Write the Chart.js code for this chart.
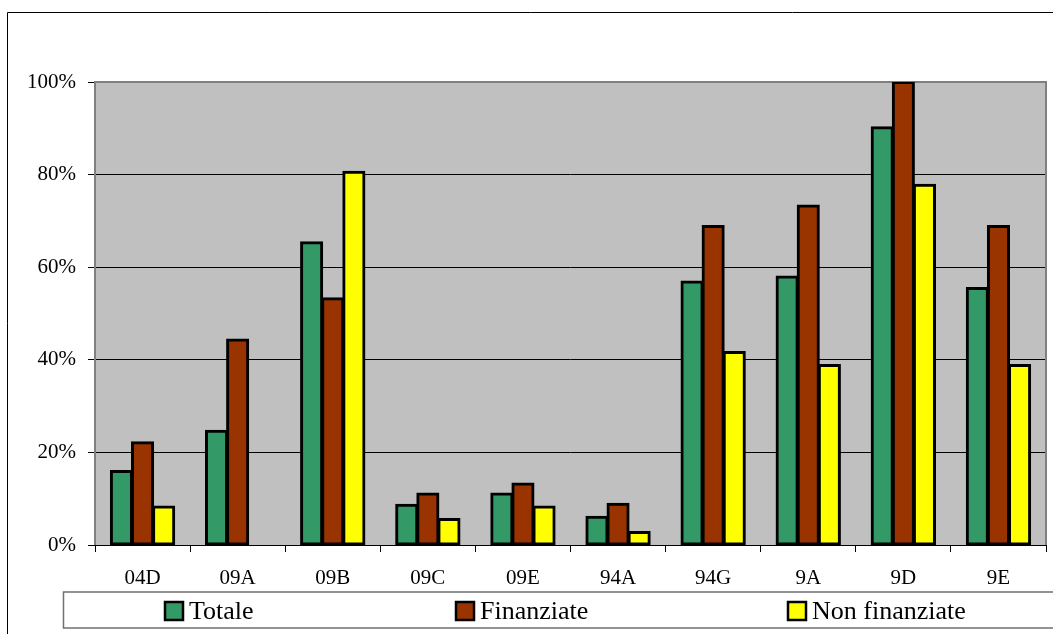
<!DOCTYPE html>
<html lang="it">
<head>
  <meta charset="UTF-8" />
  <title>Totale / Finanziate / Non finanziate</title>
  <script src="https://cdn.jsdelivr.net/npm/chart.js"></script>
  <style>
    * {
      margin: 0;
      padding: 0;
      box-sizing: border-box;
    }

    body {
      background-color: #fff;
      width: 1053px;
      height: 634px;
      overflow: hidden;
    }

    canvas {
      display: block;
    }
  </style>
</head>
<body>

  <canvas id="barChart" width="1053" height="634"></canvas>

  <script>
    const categories = ['04D', '09A', '09B', '09C', '09E', '94A', '94G', '9A', '9D', '9E'];
    const totale = [16.0, 24.7, 65.4, 8.7, 11.1, 6.1, 56.9, 58.0, 90.2, 55.5];
    const finanziate = [22.2, 44.4, 53.3, 11.1, 13.3, 8.9, 68.9, 73.3, 100, 68.9];
    const nonFinanziate = [8.3, 0, 80.6, 5.6, 8.3, 2.8, 41.7, 38.9, 77.8, 38.9];
    const yTicks = [0, 20, 40, 60, 80, 100];

    const serif = "'Liberation Serif', 'Times New Roman', serif";

    // grey plot background and outer frame
    const plotBackground = {
      id: 'plotBackground',
      beforeDraw(chart) {
        const { ctx, chartArea: a } = chart;
        ctx.save();
        ctx.fillStyle = '#c0c0c0';
        ctx.fillRect(a.left, a.top, a.right - a.left, a.bottom - a.top);
        ctx.strokeStyle = '#000';
        ctx.lineWidth = 1;
        ctx.beginPath();
        ctx.moveTo(7.5, 640);
        ctx.lineTo(7.5, 12.5);
        ctx.lineTo(1060, 12.5);
        ctx.stroke();
        ctx.restore();
      }
    };

    // grey border round the plot (left, top, right)
    const plotBorder = {
      id: 'plotBorder',
      beforeDatasetsDraw(chart) {
        const { ctx, chartArea: a } = chart;
        ctx.save();
        ctx.strokeStyle = '#808080';
        ctx.lineWidth = 2;
        ctx.beginPath();
        ctx.moveTo(a.left, a.bottom);
        ctx.lineTo(a.left, a.top);
        ctx.lineTo(a.right, a.top);
        ctx.lineTo(a.right, a.bottom);
        ctx.stroke();
        ctx.restore();
      }
    };

    // legend box at the bottom, drawn like the original one
    const boxLegend = {
      id: 'boxLegend',
      afterDraw(chart) {
        const ctx = chart.ctx;
        const xs = [165, 456, 788];
        ctx.save();
        ctx.strokeStyle = '#707070';
        ctx.lineWidth = 1.5;
        ctx.strokeRect(63.5, 592, 1010, 36);
        ctx.font = '26px ' + serif;
        ctx.textBaseline = 'alphabetic';
        chart.data.datasets.forEach((ds, i) => {
          ctx.fillStyle = ds.backgroundColor;
          ctx.fillRect(xs[i], 602, 18, 18);
          ctx.strokeStyle = '#000';
          ctx.lineWidth = 2.5;
          ctx.strokeRect(xs[i], 602, 18, 18);
          ctx.fillStyle = '#000';
          ctx.fillText(ds.label, xs[i] + 24, 619);
        });
        ctx.restore();
      }
    };

    const commonBar = {
      borderColor: '#000',
      borderWidth: 3,
      borderSkipped: false,
      inflateAmount: 1,
      categoryPercentage: 0.666,
      barPercentage: 1.0
    };

    const ctx = document.getElementById('barChart').getContext('2d');

    const chart = new Chart(ctx, {
      type: 'bar',
      data: {
        labels: categories,
        datasets: [
          { label: 'Totale', data: totale, backgroundColor: '#339966', ...commonBar },
          { label: 'Finanziate', data: finanziate, backgroundColor: '#993300', ...commonBar },
          { label: 'Non finanziate', data: nonFinanziate, backgroundColor: '#ffff00', ...commonBar }
        ]
      },
      options: {
        responsive: false,
        animation: false,
        devicePixelRatio: 1,
        layout: {
          padding: { left: 0, top: 82, right: 7, bottom: 0 }
        },
        plugins: {
          legend: { display: false },
          tooltip: { enabled: false }
        },
        scales: {
          x: {
            afterFit(scale) { scale.height = 89; },
            grid: {
              offset: true,
              drawOnChartArea: false,
              drawTicks: true,
              tickLength: 7,
              color: '#000'
            },
            border: { display: true, color: '#000', width: 1 },
            ticks: {
              color: '#000',
              padding: 14,
              font: { family: serif, size: 21 }
            }
          },
          y: {
            min: 0,
            max: 100,
            afterFit(scale) { scale.width = 95; },
            afterBuildTicks(scale) {
              scale.ticks = yTicks.map(v => ({ value: v }));
            },
            grid: {
              color: '#000',
              lineWidth: 1,
              drawTicks: true,
              tickLength: 7
            },
            border: { display: false },
            ticks: {
              color: '#000',
              padding: 12,
              font: { family: serif, size: 21 },
              callback: v => v + '%'
            }
          }
        }
      },
      plugins: [plotBackground, plotBorder, boxLegend]
    });
  </script>

</body>
</html>
